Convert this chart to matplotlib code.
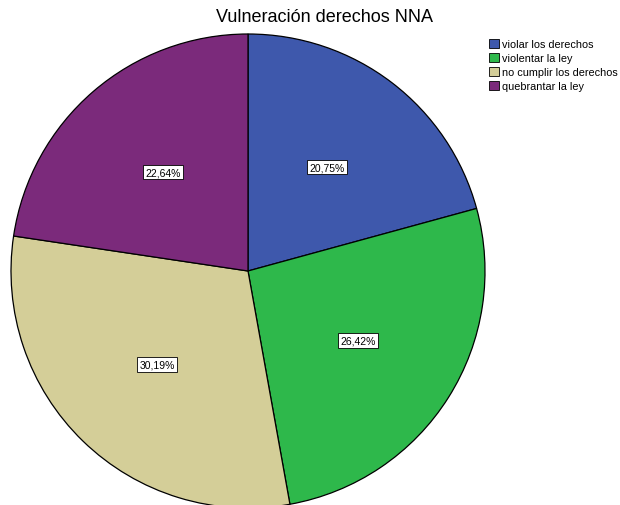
import matplotlib.pyplot as plt
import matplotlib.patches as mpatches

plt.rcParams['font.family'] = ['Liberation Sans', 'DejaVu Sans']

categories = ['violar los derechos', 'violentar la ley', 'no cumplir los derechos', 'quebrantar la ley']
values = [20.75, 26.42, 30.19, 22.64]
colors = ['#3e58ac', '#2eb84b', '#d4ce98', '#7b2a7b']

fig = plt.figure(figsize=(6.2, 5.06), dpi=100)
ax = fig.add_axes([0, 0, 1, 1])
ax.set_xlim(0, 620)
ax.set_ylim(0, 506)
ax.set_aspect('equal')
ax.axis('off')

wedges, texts, autotexts = ax.pie(
    values, colors=colors, startangle=90, counterclock=False,
    center=(248, 234), radius=237, autopct=lambda p: f'{p:.2f}%'.replace('.', ','),
    pctdistance=0.55, wedgeprops=dict(edgecolor='black', linewidth=0.9),
    textprops=dict(fontsize=7.5))
for t in autotexts:
    t.set_bbox(dict(facecolor='white', edgecolor='black', linewidth=0.6, pad=1.5))

ax.set_xlim(0, 620)
ax.set_ylim(0, 506)

fig.text(325 / 620, 1 - 18 / 506, 'Vulneración derechos NNA', ha='center', va='center', fontsize=13)

handles = [mpatches.Patch(facecolor=c, edgecolor='black', linewidth=0.6) for c in colors]
fig.legend(handles, categories, loc='upper left', bbox_to_anchor=(481 / 620, 1 - 32 / 506),
           frameon=False, fontsize=7.8, handlelength=1.0, handleheight=1.0,
           handletextpad=0.25, labelspacing=0.32, borderpad=0.2)

fig.savefig('out.png', dpi=100)
